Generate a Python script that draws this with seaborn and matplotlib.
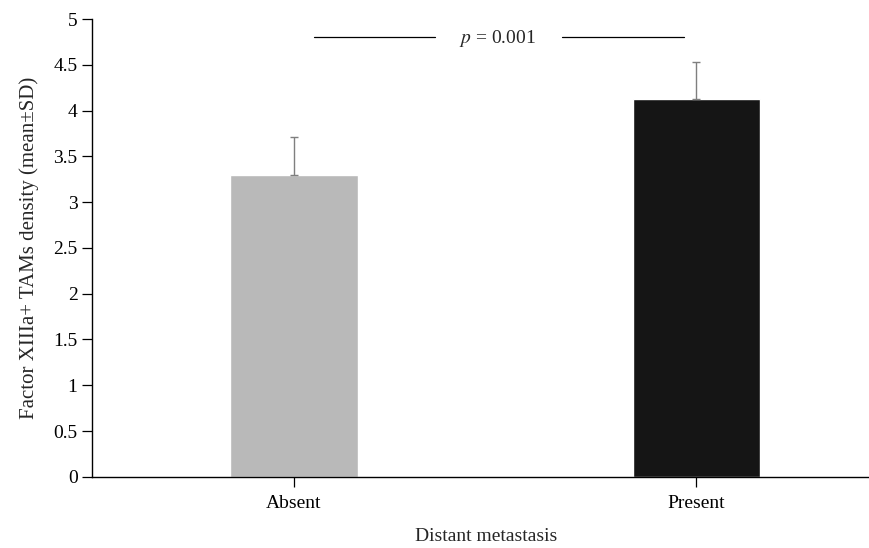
import seaborn as sns
import matplotlib.pyplot as plt
import pandas as pd
import numpy as np

# Data
groups = ['Absent', 'Present']
means = [3.30, 4.13]
sds = [0.41, 0.40]
bar_colors = ['#b9b9b9', '#151515']
p_text = 'p = 0.001'

sns.set_style('ticks')
plt.rcParams['font.family'] = ['Liberation Serif', 'DejaVu Serif']

df = pd.DataFrame({'group': groups, 'mean': means})

fig = plt.figure(figsize=(8.69, 5.48), dpi=100)
# axes runs a little past the right edge, as in the original crop
ax = fig.add_axes([0.106, 0.130, 0.907, 0.835])

sns.barplot(data=df, x='group', y='mean', hue='group', palette=bar_colors,
            width=0.316, legend=False, ax=ax, errorbar=None)

# upper-only SD whiskers
ax.errorbar(np.arange(len(groups)), means, yerr=[np.zeros(len(sds)), sds],
            fmt='none', ecolor='#7f7f7f', elinewidth=1.0, capsize=3, capthick=1.0)

# significance annotation
y_p = 4.81
ax.plot([0.05, 0.35], [y_p, y_p], color='black', lw=0.9)
ax.plot([0.667, 0.97], [y_p, y_p], color='black', lw=0.9)
ax.text(0.505, y_p - 0.02, r'$p$' + p_text[1:], ha='center', va='center', fontsize=14,
        math_fontfamily='stix')

ax.set_xlim(-0.502, 1.458)
ax.set_ylim(0, 5)
ax.set_yticks(np.arange(0, 5.01, 0.5))
ax.set_yticklabels(['0', '0.5', '1', '1.5', '2', '2.5', '3', '3.5', '4', '4.5', '5'])
ax.tick_params(axis='both', labelsize=14, length=7, width=0.9, colors='black')
ax.tick_params(axis='x', pad=6)
ax.set_xlabel('Distant metastasis', fontsize=14, labelpad=12)
ax.set_ylabel('Factor XIIIa+ TAMs density (mean±SD)', fontsize=15, labelpad=10)
sns.despine(ax=ax)
for s in ['left', 'bottom']:
    ax.spines[s].set_linewidth(1.0)
    ax.spines[s].set_color('black')

fig.savefig('out.png', dpi=100)
